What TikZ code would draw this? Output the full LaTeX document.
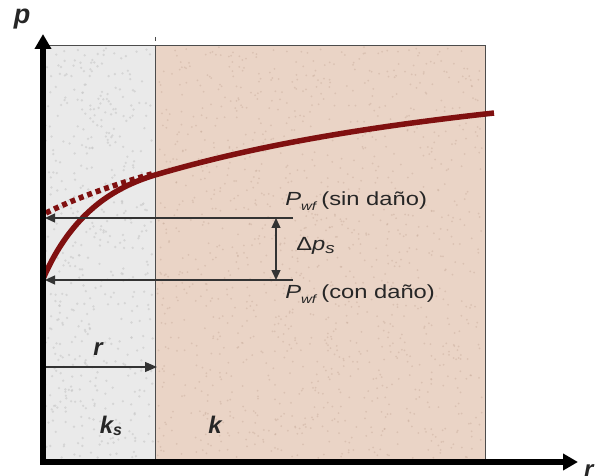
\documentclass[tikz,border=0pt]{standalone}
\usepackage{fontspec}
\setmainfont{Liberation Sans}
\usetikzlibrary{arrows.meta}
\definecolor{dmg}{RGB}{234,234,234}
\definecolor{dmgdot}{RGB}{200,200,200}
\definecolor{tan}{RGB}{234,212,198}
\definecolor{tandot}{RGB}{200,172,155}
\definecolor{curve}{RGB}{128,16,16}
\tikzset{
  axis/.style={line width=5.5pt,-{Triangle[length=15pt,width=16pt]}},
  thinline/.style={line width=1.3pt,black!80},
  lbl/.style={font=\fontsize{19}{22}\selectfont,text=black!85,inner sep=0pt,anchor=west,xscale=1.25},
  big/.style={font=\fontsize{24}{26}\selectfont\bfseries\itshape,inner sep=0pt,text=black!85},
  crv/.style={curve,line width=5.5pt}
}
\begin{document}
\begin{tikzpicture}[x=1pt,y=-1pt]
\useasboundingbox (0,0) rectangle (595,476);
% regions
\fill[dmg] (43,45) rectangle (155,460);
\fill[tan] (155,45) rectangle (485,460);
\pgfmathsetseed{7}
\foreach \i in {1,...,500}{
  \pgfmathsetmacro{\px}{45+108*rnd}
  \pgfmathsetmacro{\py}{47+411*rnd}
  \fill[dmgdot,opacity=0.6] (\px,\py) circle (1.3pt);
}
\foreach \i in {1,...,1300}{
  \pgfmathsetmacro{\px}{157+326*rnd}
  \pgfmathsetmacro{\py}{47+411*rnd}
  \fill[tandot,opacity=0.45] (\px,\py) circle (1pt);
}
\draw[line width=0.8pt,black!70] (43,45) -- (485,45) -- (485,460);
\draw[line width=0.8pt,black!70] (155,45) -- (155,460);
\draw[line width=0.8pt,black!70] (155,37) -- (155,41);
% coordinates
\coordinate (o) at (43,462);
\coordinate (ytop) at (43,34);
\coordinate (xend) at (578,462);
\coordinate (sinL) at (45,218);
\coordinate (sinR) at (293,218);
\coordinate (conL) at (45,280);
\coordinate (conR) at (293,280);
\coordinate (dpT) at (276,218);
\coordinate (dpB) at (276,280);
\coordinate (rL) at (45,367);
\coordinate (rR) at (157,367);
% curves
\draw[crv,dash pattern=on 5pt off 4pt] (46,213) .. controls (80,196) and (120,183) .. (155,173);
\draw[crv,line cap=butt] (43,279) .. controls (72,212) and (115,187) .. (155,175)
  .. controls (240,150) and (340,130) .. (494,113);
% horizontal lines
\draw[thinline,-{Triangle[length=10pt,width=9pt]}] (sinR) -- (sinL);
\draw[thinline,-{Triangle[length=10pt,width=9pt]}] (conR) -- (conL);
\draw[thinline,{Triangle[length=10pt,width=9pt]}-{Triangle[length=10pt,width=9pt]}] (dpT) -- (dpB);
\draw[thinline,-{Triangle[length=12pt,width=10pt]}] (rL) -- (rR);
% axes
\draw[axis] ([xshift=-2.75pt]o) -- (xend);
\draw[axis] ([yshift=2.75pt]o) -- (ytop);
% labels
\node[big,font=\fontsize{27}{28}\selectfont\bfseries\itshape] (plbl) at (22,19) {p};
\node[big,anchor=west] (rax) at (584,471) {r};
\node[lbl] (sin) at (285,201) {\textit{P}\raisebox{-0.45ex}{\fontsize{12}{12}\selectfont\textit{wf}}\,(sin daño)};
\node[lbl] (dp) at (296,246) {Δ\textit{p}\raisebox{-0.3ex}{\fontsize{15}{15}\selectfont\textit{s}}};
\node[lbl] (con) at (285,294) {\textit{P}\raisebox{-0.45ex}{\fontsize{12}{12}\selectfont\textit{wf}}\,(con daño)};
\node[big] (rlbl) at (98,349) {r};
\node[big] (ks) at (111,426) {k\raisebox{-0.2ex}{\fontsize{16}{16}\selectfont s}};
\node[big] (k) at (215,425) {k};
\end{tikzpicture}
\end{document}
